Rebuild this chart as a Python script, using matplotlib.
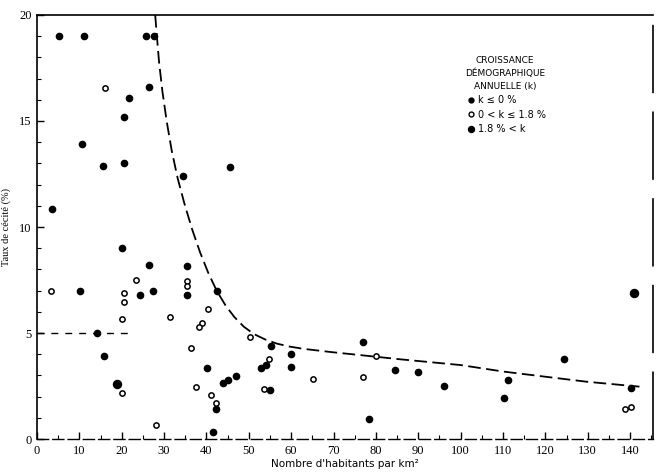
import matplotlib
matplotlib.use("Agg")
import matplotlib.pyplot as plt
from matplotlib.ticker import MultipleLocator

# points: (habitants/km2, taux de cecite %)
neg_x = [5.3, 11.2, 25.7, 27.5, 26.4, 21.8, 20.6, 10.6, 15.6, 20.6, 34.5, 3.5, 45.6,
         20.1, 26.4, 35.3, 10.1, 27.3, 24.3, 35.3, 42.4, 14.1, 15.9, 40.2, 41.5, 42.2,
         55.2, 60.0, 60.0, 52.9, 54.0, 47.0, 45.0, 43.8, 55.0, 77.0, 78.4, 84.5, 90.0,
         96.1, 110.3, 111.1, 124.4, 140.2]
neg_y = [19.0, 19.0, 19.0, 19.0, 16.6, 16.1, 15.2, 13.9, 12.9, 13.0, 12.4, 10.85, 12.85,
         9.0, 8.19, 8.17, 7.0, 7.0, 6.8, 6.8, 7.0, 5.01, 3.92, 3.33, 0.35, 1.4,
         4.4, 4.0, 3.4, 3.36, 3.49, 2.97, 2.78, 2.62, 2.30, 4.56, 0.96, 3.24, 3.18,
         2.52, 1.92, 2.78, 3.76, 2.39]

mid_x = [16.1, 23.4, 3.2, 20.5, 20.5, 35.3, 35.3, 20.1, 31.4, 40.4, 38.9, 38.3, 36.3,
         20.0, 37.5, 41.1, 42.2, 28.0, 50.3, 54.8, 53.6, 65.1, 80.0, 77.0, 138.8, 140.2]
mid_y = [16.57, 7.5, 6.98, 6.87, 6.46, 7.45, 7.2, 5.65, 5.77, 6.13, 5.49, 5.3, 4.3,
         2.17, 2.45, 2.08, 1.7, 0.68, 4.8, 3.76, 2.34, 2.85, 3.92, 2.92, 1.43, 1.5]

high_x = [141.0, 19.0]
high_y = [6.87, 2.61]

# dashed envelope curve
curve_x = [27.9, 28.3, 28.8, 29.6, 30.6, 31.8, 33.2, 34.8, 36.6, 38.5, 40.4, 42.4, 44.5,
           46.6, 48.8, 51.2, 53.8, 56.6, 59.6, 63.0, 69.9, 76.2, 85.7, 99.9, 110.1,
           119.9, 129.8, 142.2]
curve_y = [20.0, 19.0, 17.8, 16.4, 15.0, 13.6, 12.3, 11.1, 9.9, 8.8, 7.85, 7.0, 6.3,
           5.75, 5.3, 4.95, 4.7, 4.5, 4.36, 4.25, 4.09, 3.96, 3.76, 3.49, 3.18,
           2.94, 2.7, 2.47]

x_ticks = list(range(0, 150, 10))
y_ticks = [0, 5, 10, 15, 20]

W, H = 658, 473
fig = plt.figure(figsize=(W / 100, H / 100), dpi=100)
ax = fig.add_axes([37 / W, (H - 439) / H, 616 / W, 424 / H])
ax.set_xlim(0, 145.4)
ax.set_ylim(0, 20)

ax.plot(curve_x, curve_y, color="black", lw=1.3, ls=(0, (7, 3)))
ax.plot([0, 22], [5, 5], color="black", lw=1.0, ls=(0, (5, 5)))

ax.plot(neg_x, neg_y, "o", color="black", ms=4.5, ls="none")
ax.plot(mid_x, mid_y, "o", mfc="white", mec="black", mew=1.1, ms=3.8, ls="none")
ax.plot(high_x, high_y, "o", color="black", ms=5.8, ls="none")

for s in ["top", "left"]:
    ax.spines[s].set_linewidth(1.2)
ax.spines["bottom"].set_linewidth(1.0)
ax.spines["bottom"].set_linestyle((0, (8, 3)))
ax.spines["right"].set_linewidth(1.2)
ax.spines["right"].set_linestyle((0, (40, 12)))

ax.set_xticks(x_ticks)
ax.set_yticks(y_ticks)
ax.xaxis.set_minor_locator(MultipleLocator(5))
ax.yaxis.set_minor_locator(MultipleLocator(1))
ax.tick_params(which="both", direction="in", top=False, right=False)
ax.tick_params(which="major", length=5, width=1.0, labelsize=9, pad=4)
ax.tick_params(which="minor", length=3, width=0.8)
for lab in ax.get_xticklabels() + ax.get_yticklabels():
    lab.set_family("Liberation Serif")

ax.set_xlabel("Nombre d'habitants par km²", fontsize=7.5, labelpad=2)
ax.set_ylabel("Taux de cécité (%)", fontsize=7.5, family="Liberation Serif", labelpad=6)

# legend drawn as text, like the original figure
title = "CROISSANCE\nDÉMOGRAPHIQUE\nANNUELLE (k)"
fig.text(505 / W, 1 - 56 / H, title, ha="center", va="top", fontsize=6.5,
         linespacing=1.5)
items = ["k ≤ 0 %", "0 < k ≤ 1.8 %", "1.8 % < k"]
styles = [dict(color="black", ms=3.5), dict(mfc="white", mec="black", mew=1.0, ms=3.5),
          dict(color="black", ms=4.3)]
for i, (txt, st) in enumerate(zip(items, styles)):
    yy = 1 - (100 + 14.5 * i) / H
    fig.lines.append(plt.Line2D([471 / W], [yy], marker="o", transform=fig.transFigure,
                                ls="none", **st))
    fig.text(478 / W, yy, txt, ha="left", va="center", fontsize=7)

fig.savefig("out.png", dpi=100)
